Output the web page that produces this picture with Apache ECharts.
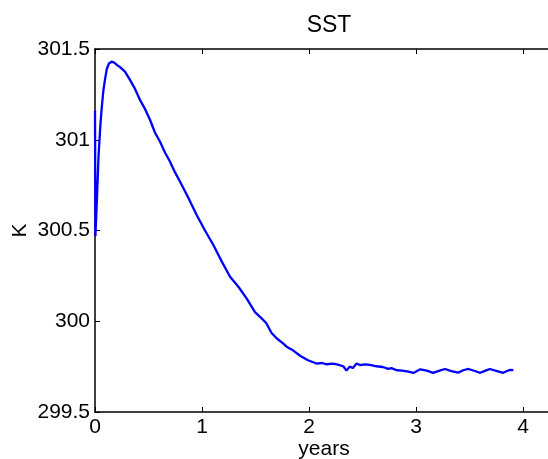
<!DOCTYPE html>
<html>
<head>
<meta charset="utf-8">
<script src="https://cdn.jsdelivr.net/npm/echarts@6/dist/echarts.min.js"></script>
<style>
html,body{margin:0;padding:0;background:#fff;}
#chart{width:548px;height:459px;}
</style>
</head>
<body>
<div id="chart"></div>
<script>
var years = [0, 0.004, 0.019, 0.033, 0.05, 0.062, 0.078, 0.093, 0.11, 0.13, 0.155, 0.18, 0.21, 0.234, 0.28, 0.327, 0.374, 0.42, 0.467, 0.514, 0.56, 0.607, 0.654, 0.70, 0.748, 0.794, 0.872, 0.95, 1.028, 1.106, 1.184, 1.262, 1.34, 1.418, 1.495, 1.55, 1.60, 1.65, 1.70, 1.76, 1.79, 1.85, 1.916, 1.99, 2.07, 2.12, 2.166, 2.22, 2.26, 2.32, 2.35, 2.38, 2.41, 2.445, 2.48, 2.52, 2.57, 2.63, 2.69, 2.74, 2.77, 2.82, 2.87, 2.93, 2.975, 3.04, 3.1, 3.16, 3.22, 3.27, 3.33, 3.395, 3.44, 3.49, 3.55, 3.60, 3.65, 3.69, 3.75, 3.815, 3.85, 3.88, 3.91];
var sst = [301.16, 300.47, 300.69, 300.91, 301.08, 301.17, 301.27, 301.33, 301.39, 301.42, 301.43, 301.425, 301.41, 301.40, 301.375, 301.33, 301.28, 301.22, 301.17, 301.11, 301.04, 300.99, 300.93, 300.88, 300.82, 300.77, 300.68, 300.585, 300.50, 300.42, 300.33, 300.245, 300.19, 300.125, 300.05, 300.02, 299.99, 299.935, 299.905, 299.877, 299.86, 299.84, 299.81, 299.785, 299.767, 299.77, 299.763, 299.766, 299.762, 299.752, 299.728, 299.75, 299.742, 299.767, 299.758, 299.762, 299.76, 299.752, 299.748, 299.738, 299.742, 299.73, 299.728, 299.722, 299.715, 299.735, 299.728, 299.716, 299.728, 299.737, 299.725, 299.717, 299.73, 299.737, 299.726, 299.716, 299.728, 299.737, 299.727, 299.716, 299.726, 299.732, 299.731];
var xTicks = [0, 1, 2, 3, 4];
var yTicks = [299.5, 300, 300.5, 301, 301.5];
var titleText = 'SST';
var xName = 'years';
var yName = 'K';

var pts = years.map(function (x, i) { return [x, sst[i]]; });
var font = '"Liberation Sans", Arial, Helvetica, sans-serif';
var chart = echarts.init(document.getElementById('chart'), null, {renderer: 'canvas'});
var axisLineStyle = {color: '#000', width: 1.5};
chart.setOption({
  animation: false,
  backgroundColor: '#fff',
  title: {
    text: titleText, left: 324, top: 9, textAlign: 'center',
    textStyle: {fontFamily: font, fontSize: 23, fontWeight: 'normal', color: '#000'}
  },
  grid: {left: 95, top: 49, right: -5, bottom: 47, containLabel: false, outerBoundsMode: 'none'},
  xAxis: [{
    type: 'value', min: 0, max: 4.28, interval: 1,
    name: xName, nameLocation: 'middle', nameGap: 27, nameMoveOverlap: false,
    nameTextStyle: {fontFamily: font, fontSize: 21, color: '#000'},
    axisLine: {show: true, lineStyle: axisLineStyle},
    axisTick: {show: true, inside: true, length: 5, lineStyle: {color: '#000', width: 1}},
    axisLabel: {fontFamily: font, fontSize: 21, color: '#000', margin: 5,
      formatter: function (v) { return xTicks.indexOf(v) >= 0 ? String(v) : ''; }},
    splitLine: {show: false}
  }, {
    type: 'value', min: 0, max: 4.28, interval: 1, position: 'top',
    axisLine: {show: true, lineStyle: axisLineStyle},
    axisTick: {show: true, inside: true, length: 5, lineStyle: {color: '#000', width: 1}},
    axisLabel: {show: false},
    splitLine: {show: false}
  }],
  yAxis: [{
    type: 'value', min: 299.5, max: 301.5, interval: 0.5,
    name: yName, nameLocation: 'middle', nameGap: 64, nameRotate: 90, nameMoveOverlap: false,
    nameTextStyle: {fontFamily: font, fontSize: 21, color: '#000'},
    axisLine: {show: true, lineStyle: axisLineStyle},
    axisTick: {show: true, inside: true, length: 5, lineStyle: {color: '#000', width: 1}},
    axisLabel: {fontFamily: font, fontSize: 21, color: '#000', margin: 5,
      formatter: function (v) { return yTicks.indexOf(v) >= 0 ? String(v) : ''; }},
    splitLine: {show: false}
  }],
  series: [{
    type: 'line', data: pts, xAxisIndex: 0, yAxisIndex: 0,
    showSymbol: false, symbol: 'none',
    lineStyle: {color: '#0000ff', width: 2.3},
    clip: true
  }]
});
</script>
</body>
</html>
